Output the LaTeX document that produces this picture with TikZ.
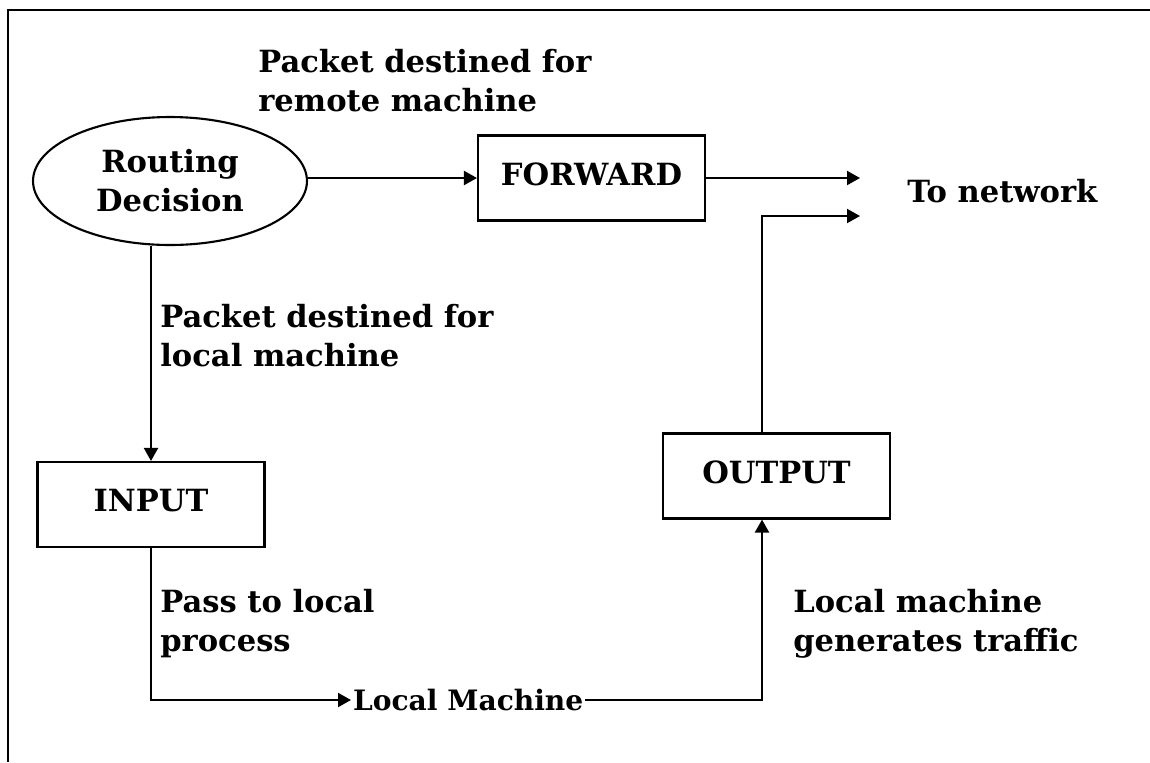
\documentclass[tikz,border=0pt]{standalone}
\usepackage{fontspec}
\setmainfont{DejaVu Serif}
\usetikzlibrary{shapes.geometric,arrows.meta}
\begin{document}
\begin{tikzpicture}[x=0.02cm,y=-0.02cm,
  font=\fontsize{17.4}{22.2}\selectfont\bfseries,
  blk/.style={draw,line width=1.2pt,minimum width=4.54cm,minimum height=1.7cm,text depth=0.16cm,inner sep=0pt},
  lbl/.style={inner sep=0pt,anchor=north west,align=left},
  arr/.style={line width=1.2pt,-{Triangle[length=0.26cm,width=0.28cm]}}]
\useasboundingbox (0,0) rectangle (1150,762);
\draw[line width=0.8pt] (1150,10)--(8,10)--(8,762);
% chains and boxes
\node[ellipse,draw,line width=1.2pt,minimum width=5.48cm,minimum height=2.56cm,inner sep=0pt,align=center] (dec) at (170,181) {Routing\\Decision};
\node[blk] (fwd) at (591.5,178) {FORWARD};
\node[blk] (inp) at (151,504.5) {INPUT};
\node[blk] (out) at (776.5,476) {OUTPUT};
\node[inner sep=1pt,anchor=west,font=\fontsize{16}{19}\selectfont\bfseries] (lm) at (351,700) {Local Machine};
\node[anchor=base west,inner sep=0pt] (net) at (907,202) {To network};
% labels
\node[lbl] (rem) at (258,49) {Packet destined for\\remote machine};
\node[lbl] (loc) at (160,304) {Packet destined for\\local machine};
\node[lbl] (pass) at (160,589) {Pass to local\\process};
\node[lbl] (gen) at (793,589) {Local machine\\generates traffic};
% connectors
\coordinate (net1) at (860,178);
\coordinate (net2) at (860,216);
\coordinate (rc) at (762,700);
\draw[arr] (dec.east |- fwd.west) -- (fwd.west);
\draw[arr] (fwd.east) -- (net1);
\draw[arr] (dec.south -| inp.north) -- (inp.north);
\draw[arr] (inp.south) |- (lm.west);
\draw[arr] (lm.east) -- (rc) -- (rc |- out.south);
\draw[arr] (rc |- out.north) |- (net2);
\end{tikzpicture}
\end{document}
